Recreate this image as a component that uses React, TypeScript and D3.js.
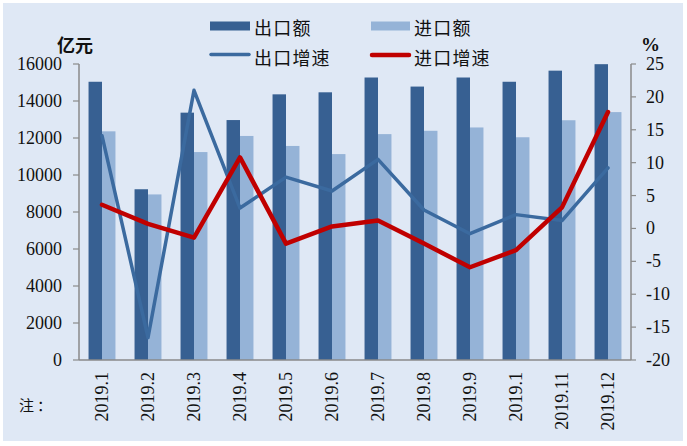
import React from "react";
import * as d3 from "d3";

const categories = ["2019.1", "2019.2", "2019.3", "2019.4", "2019.5", "2019.6", "2019.7", "2019.8", "2019.9", "2019.1", "2019.11", "2019.12"];
const exportValues = [15040, 9230, 13370, 12970, 14360, 14470, 15270, 14780, 15270, 15040, 15640, 15990];
const importValues = [12360, 8950, 11240, 12110, 11570, 11130, 12210, 12390, 12570, 12040, 12960, 13400];
const exportGrowth = [14.1, -16.6, 21.0, 3.1, 7.8, 5.7, 10.5, 2.8, -0.8, 2.1, 1.2, 9.2];
const importGrowth = [3.6, 0.7, -1.4, 10.8, -2.3, 0.3, 1.2, -2.3, -5.9, -3.3, 3.2, 17.7];
const leftTicks = [0, 2000, 4000, 6000, 8000, 10000, 12000, 14000, 16000];
const rightTicks = [-20, -15, -10, -5, 0, 5, 10, 15, 20, 25];

const W = 687;
const H = 446;
const plot = { left: 79, right: 631, top: 64, bottom: 360 };

const DARK = "#376092";
const LIGHT = "#95b3d7";
const BLUE_LINE = "#3b6a9f";
const RED = "#c00000";
const AXIS = "#8a8a8a";
const BG = "#dfe8f5";

export default function App() {
  const idx = categories.map((_, i) => String(i));
  const x0 = d3
    .scaleBand<string>()
    .domain(idx)
    .range([plot.left, plot.right])
    .paddingInner(0.415)
    .paddingOuter(0.2075);
  const x1 = d3.scaleBand<string>().domain(["e", "i"]).range([0, x0.bandwidth()]);
  const yL = d3.scaleLinear().domain([0, 16000]).range([plot.bottom, plot.top]);
  const yR = d3.scaleLinear().domain([-20, 25]).range([plot.bottom, plot.top]);
  const cx = (i: number) => (x0(String(i)) as number) + x0.bandwidth() / 2;

  const line = d3
    .line<number>()
    .x((_, i) => cx(i))
    .y((d) => yR(d));

  const serif = "Liberation Serif, DejaVu Serif, serif";
  const cjk = "Noto Sans CJK SC, sans-serif";

  return (
    <div style={{ position: "fixed", left: 0, top: 0, width: W, height: H, background: "#fff" }}>
      <svg width={W} height={H} style={{ display: "block" }}>
        <rect x={3} y={3} width={680} height={438} fill={BG} />

        {/* bars */}
        {exportValues.map((v, i) => (
          <rect
            key={"e" + i}
            x={(x0(String(i)) as number) + (x1("e") as number)}
            y={yL(v)}
            width={x1.bandwidth()}
            height={plot.bottom - yL(v)}
            fill={DARK}
          />
        ))}
        {importValues.map((v, i) => (
          <rect
            key={"i" + i}
            x={(x0(String(i)) as number) + (x1("i") as number)}
            y={yL(v)}
            width={x1.bandwidth()}
            height={plot.bottom - yL(v)}
            fill={LIGHT}
          />
        ))}

        {/* axes */}
        <line x1={plot.left} y1={plot.top} x2={plot.left} y2={plot.bottom} stroke={AXIS} strokeWidth={1.5} />
        <line x1={plot.right} y1={plot.top} x2={plot.right} y2={plot.bottom} stroke={AXIS} strokeWidth={1.5} />
        <line x1={plot.left} y1={plot.bottom} x2={plot.right} y2={plot.bottom} stroke={AXIS} strokeWidth={1.5} />
        {leftTicks.map((t) => (
          <g key={"lt" + t}>
            <line x1={plot.left - 6} x2={plot.left} y1={yL(t)} y2={yL(t)} stroke={AXIS} strokeWidth={1.2} />
            <text x={62} y={yL(t)} textAnchor="end" dominantBaseline="central" style={{ fontFamily: serif }} fontSize={18} fill="#111">
              {t}
            </text>
          </g>
        ))}
        {rightTicks.map((t) => (
          <g key={"rt" + t}>
            <line x1={plot.right} x2={plot.right + 5} y1={yR(t)} y2={yR(t)} stroke={AXIS} strokeWidth={1.2} />
            <text x={646} y={yR(t)} textAnchor="start" dominantBaseline="central" style={{ fontFamily: serif }} fontSize={18} fill="#111">
              {t}
            </text>
          </g>
        ))}

        {/* lines */}
        <path d={line(exportGrowth) || ""} fill="none" stroke={BLUE_LINE} strokeWidth={3.5} strokeLinejoin="round" strokeLinecap="round" />
        <path d={line(importGrowth) || ""} fill="none" stroke={RED} strokeWidth={4.5} strokeLinejoin="round" strokeLinecap="round" />

        {/* x labels */}
        {categories.map((c, i) => (
          <text
            key={"xl" + i}
            transform={`translate(${cx(i)},372) rotate(-90)`}
            textAnchor="end"
            dominantBaseline="central"
            style={{ fontFamily: serif }}
            fontSize={18}
            fill="#111"
          >
            {c}
          </text>
        ))}

        {/* axis titles */}
        <text x={57} y={44} dominantBaseline="central" style={{ fontFamily: cjk }} fontWeight="bold" fontSize={18} fill="#111">
          亿元
        </text>
        <text x={641} y={44} dominantBaseline="central" style={{ fontFamily: serif }} fontWeight="bold" fontSize={19} fill="#111">
          %
        </text>
        <text x={19} y={404} dominantBaseline="central" style={{ fontFamily: cjk }} fontSize={15} letterSpacing={3} fill="#111">
          注：
        </text>

        {/* legend */}
        <rect x={210} y={21.5} width={40} height={9} fill={DARK} />
        <text x={254} y={27} dominantBaseline="central" style={{ fontFamily: cjk }} fontSize={18} letterSpacing={1.2} fill="#111">
          出口额
        </text>
        <line x1={211} x2={249} y1={54.5} y2={54.5} stroke={BLUE_LINE} strokeWidth={3.5} strokeLinecap="round" />
        <text x={254} y={57} dominantBaseline="central" style={{ fontFamily: cjk }} fontSize={18} letterSpacing={1.2} fill="#111">
          出口增速
        </text>
        <rect x={371} y={21.5} width={39} height={9} fill={LIGHT} />
        <text x={414} y={27} dominantBaseline="central" style={{ fontFamily: cjk }} fontSize={18} letterSpacing={1.2} fill="#111">
          进口额
        </text>
        <line x1={372} x2={409} y1={55} y2={55} stroke={RED} strokeWidth={4.5} strokeLinecap="round" />
        <text x={414} y={57} dominantBaseline="central" style={{ fontFamily: cjk }} fontSize={18} letterSpacing={1.2} fill="#111">
          进口增速
        </text>
      </svg>
    </div>
  );
}
